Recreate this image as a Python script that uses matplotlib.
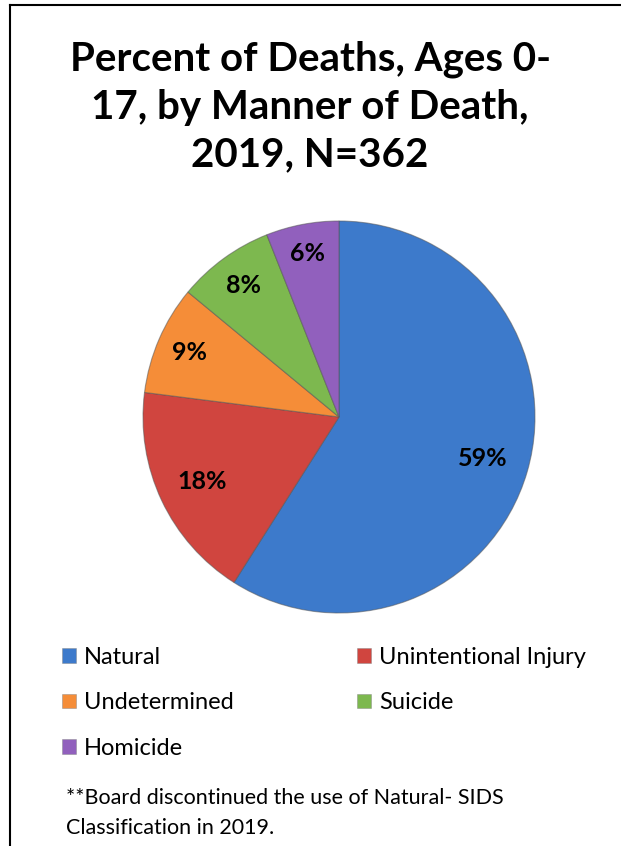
import matplotlib
matplotlib.use("Agg")
import matplotlib.pyplot as plt
from matplotlib.lines import Line2D
from matplotlib.patches import Patch
import numpy as np

categories = ["Natural", "Unintentional Injury", "Undetermined", "Suicide", "Homicide"]
percents = [59, 18, 9, 8, 6]
colors = ["#3d7acb", "#d0453f", "#f58d38", "#7db84f", "#9160bd"]
title = "Percent of Deaths, Ages 0-\n17, by Manner of Death,\n2019, N=362"
footnote = "**Board discontinued the use of Natural- SIDS\nClassification in 2019."

W, H = 621, 846
fig = plt.figure(figsize=(W / 100, H / 100), dpi=100)
fig.patch.set_facecolor("white")

cx, cy, r = 339, 417, 196
ax = fig.add_axes([(cx - r) / W, (H - cy - r) / H, 2 * r / W, 2 * r / H])
wedges, texts, autotexts = ax.pie(
    percents, colors=colors, startangle=90, counterclock=False,
    autopct=lambda p: f"{p:.0f}%", pctdistance=0.77,
    wedgeprops=dict(edgecolor="#55555588", linewidth=0.8),
    textprops=dict(family="Lato", fontweight="bold", fontsize=18, color="black"),
)
dists = [0.765, 0.77, 0.83, 0.83, 0.85]
for w, t, d in zip(wedges, autotexts, dists):
    ang = np.deg2rad((w.theta1 + w.theta2) / 2)
    t.set_position((d * np.cos(ang), d * np.sin(ang)))
ax.set_xlim(-1, 1)
ax.set_ylim(-1, 1)
ax.set_aspect("equal")
ax.axis("off")

fig.text(310 / W, 1 - 40 / H, title, ha="center", va="top", family="Lato",
         fontweight="bold", fontsize=29, linespacing=1.37)

order = [0, 2, 4, 1, 3]
handles = [Patch(facecolor=colors[i], edgecolor="#88888888", linewidth=0.6) for i in order]
labels = [categories[i] for i in order]
leg = fig.legend(handles, labels, ncol=2, loc="upper left",
                 bbox_to_anchor=(62 / W, 1 - 647 / H), frameon=False,
                 prop=dict(family="Lato", size=17), handlelength=0.6,
                 handleheight=0.6, handletextpad=0.34, labelspacing=1.03,
                 columnspacing=5.2, borderpad=0, borderaxespad=0)

fig.text(66 / W, 1 - 788 / H, footnote, ha="left", va="top", family="Lato",
         fontsize=15.5, linespacing=1.6)

fig.add_artist(Line2D([9.5 / W, 1.0], [1 - 5 / H, 1 - 5 / H], color="black",
                      linewidth=1.5, transform=fig.transFigure))
fig.add_artist(Line2D([9.5 / W, 9.5 / W], [1 - 5 / H, 0], color="black",
                      linewidth=1.5, transform=fig.transFigure))

fig.savefig("out.png", dpi=100)
